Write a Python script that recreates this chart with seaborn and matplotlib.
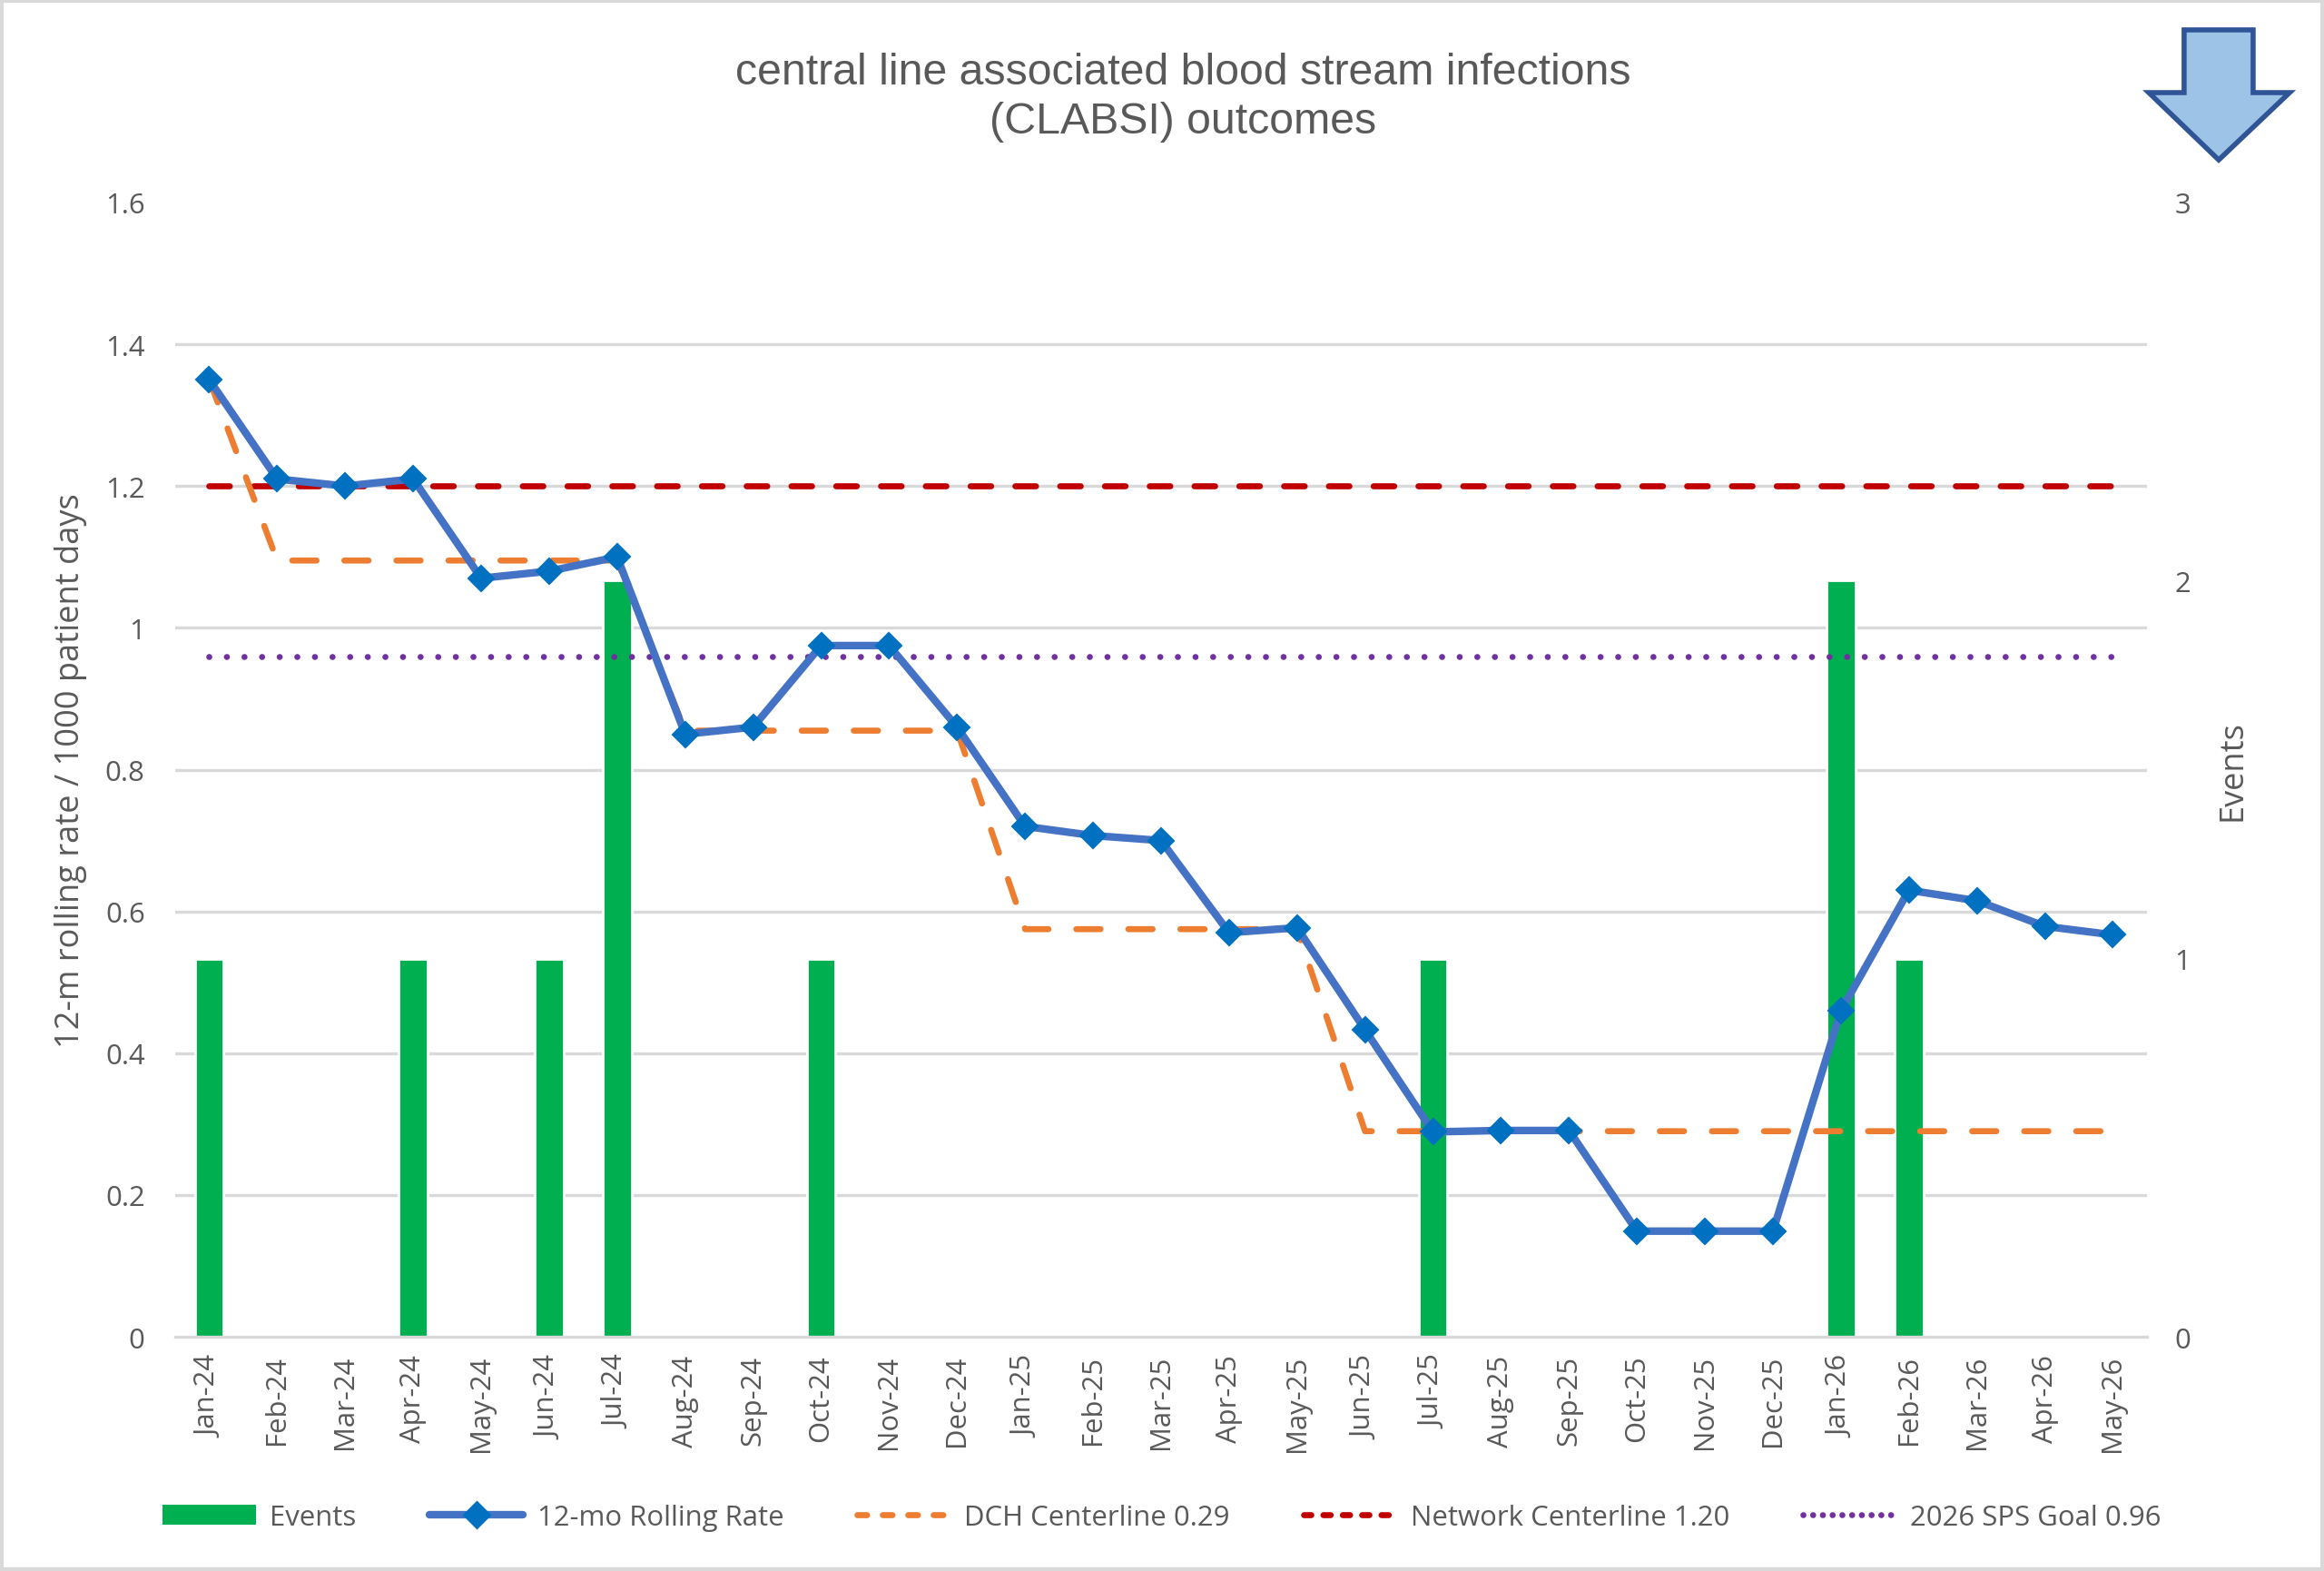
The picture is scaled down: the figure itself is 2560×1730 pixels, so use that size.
import numpy as np
import pandas as pd
import seaborn as sns
import matplotlib.pyplot as plt
from matplotlib.patches import Polygon, Rectangle, Patch
from matplotlib.lines import Line2D
from matplotlib.ticker import MultipleLocator

months = ["Jan-24", "Feb-24", "Mar-24", "Apr-24", "May-24", "Jun-24", "Jul-24",
          "Aug-24", "Sep-24", "Oct-24", "Nov-24", "Dec-24", "Jan-25", "Feb-25",
          "Mar-25", "Apr-25", "May-25", "Jun-25", "Jul-25", "Aug-25", "Sep-25",
          "Oct-25", "Nov-25", "Dec-25", "Jan-26", "Feb-26", "Mar-26", "Apr-26",
          "May-26"]
events = [1, 0, 0, 1, 0, 1, 2, 0, 0, 1, 0, 0, 0, 0, 0, 0, 0, 0, 1, 0, 0,
          0, 0, 0, 2, 1, 0, 0, 0]
rolling_rate = [1.35, 1.21, 1.20, 1.21, 1.07, 1.08, 1.10, 0.85, 0.86, 0.975,
                0.975, 0.86, 0.72, 0.707, 0.70, 0.57, 0.577, 0.433, 0.289,
                0.291, 0.291, 0.149, 0.149, 0.149, 0.46, 0.63, 0.615, 0.579,
                0.567]
dch_centerline = [1.35, 1.095, 1.095, 1.095, 1.095, 1.095, 1.095, 0.855, 0.855,
                  0.855, 0.855, 0.855, 0.575, 0.575, 0.575, 0.575, 0.575, 0.29,
                  0.29, 0.29, 0.29, 0.29, 0.29, 0.29, 0.29, 0.29, 0.29, 0.29,
                  0.29]
network_centerline = [1.20] * len(months)
sps_goal = [0.96] * len(months)
rate_ticks = ["0", "0.2", "0.4", "0.6", "0.8", "1", "1.2", "1.4", "1.6"]

df = pd.DataFrame({
    "idx": np.arange(len(months)),
    "month": months,
    "events": events,
    "rate": rolling_rate,
    "dch": dch_centerline,
    "network": network_centerline,
    "goal": sps_goal,
})

sns.set_style("white")
plt.rcParams["font.family"] = ["Open Sans", "DejaVu Sans"]
text_col = "#595959"
grid_col = "#d9d9d9"
tick_fs = 11.2

fig = plt.figure(figsize=(12.8, 8.655), dpi=200)
ax = fig.add_axes([0.0754, 0.149, 0.8484, 0.7216])

# bars on the bottom axis (events scale, shown on the right)
sns.barplot(df, x="idx", y="events", color="#00b050", saturation=1,
            width=0.42, ax=ax, zorder=2)
ax.set_ylim(0, 3)
ax.yaxis.set_major_locator(MultipleLocator(1))
ax.yaxis.set_minor_locator(MultipleLocator(0.375))
ax.grid(which="minor", axis="y", color=grid_col, lw=1.2, zorder=0)
ax.grid(which="major", axis="y", visible=False)
ax.set_axisbelow(True)

# lines on the twin axis (rate scale, shown on the left)
ax2 = ax.twinx()
sns.lineplot(df, x="idx", y="rate", ax=ax2, color="#4472c4", lw=3.0,
             marker="D", markersize=7, markerfacecolor="#0070c0",
             markeredgecolor="#0070c0", zorder=5)
ax2.plot(df["idx"], df["dch"], color="#ed7d31", lw=2.4,
         linestyle=(0, (4.0, 4.6)), dash_capstyle="round", zorder=4)
sns.lineplot(df, x="idx", y="network", ax=ax2, color="#c00000", lw=2.4,
             linestyle=(0, (3.4, 4.0)), dash_capstyle="round", zorder=3)
sns.lineplot(df, x="idx", y="goal", ax=ax2, color="#7030a0", lw=2.4,
             linestyle=(0, (0.01, 2.9)), dash_capstyle="round", zorder=3)
ax2.set_ylim(0, 1.6)
ax2.set_yticks(np.arange(0, 1.61, 0.2))
ax2.set_yticklabels(rate_ticks)

# swap sides: events on the right, rate on the left
ax.yaxis.tick_right()
ax.yaxis.set_label_position("right")
ax2.yaxis.tick_left()
ax2.yaxis.set_label_position("left")
ax.set_ylabel("Events", color=text_col, fontsize=13, labelpad=10)
ax.tick_params(axis="y", which="both", length=0, pad=11, labelsize=tick_fs,
               labelcolor=text_col, left=False, labelleft=False)
ax2.set_ylabel("12-m rolling rate / 1000 patient days", color=text_col,
               fontsize=13, labelpad=7)
ax2.tick_params(axis="y", length=0, pad=12, labelsize=tick_fs, labelcolor=text_col,
                right=False, labelright=False)

ax.set_xlim(-0.5, len(months) - 0.5)
ax.set_xticks(df["idx"])
ax.set_xticklabels(months, rotation=90)
ax.tick_params(axis="x", length=0, pad=7, labelsize=tick_fs, labelcolor=text_col)
ax.set_xlabel("")
ax2.set_xlabel("")

for a in (ax, ax2):
    for side in ("top", "left", "right"):
        a.spines[side].set_visible(False)
    a.spines["bottom"].set_color(grid_col)
    a.spines["bottom"].set_linewidth(1.2)
ax2.spines["bottom"].set_visible(False)

fig.text(0.509, 0.938, "central line associated blood stream infections\n(CLABSI) outcomes",
         ha="center", va="center", fontsize=17.4, color=text_col,
         family="Liberation Sans", linespacing=1.25)

handles = [
    Patch(facecolor="#00b050", edgecolor="none"),
    Line2D([], [], color="#4472c4", lw=3.0, marker="D", markersize=7,
           markerfacecolor="#0070c0", markeredgecolor="#0070c0"),
    Line2D([], [], color="#ed7d31", lw=2.4, linestyle=(0, (1.6, 2.6)), dash_capstyle="round"),
    Line2D([], [], color="#c00000", lw=2.4, linestyle=(0, (1.2, 2.0)), dash_capstyle="round"),
    Line2D([], [], color="#7030a0", lw=2.4, linestyle=(0, (0.01, 1.6)), dash_capstyle="round"),
]
labels = ["Events", "12-mo Rolling Rate", "DCH Centerline 0.29",
          "Network Centerline 1.20", "2026 SPS Goal 0.96"]
fig.legend(handles, labels, loc="center", bbox_to_anchor=(0.5, 0.034), ncol=5,
           frameon=False, fontsize=tick_fs, labelcolor=text_col, handlelength=3.3,
           columnspacing=2.6, handletextpad=0.5)

# decorative down arrow in the corner
arrow_pts = [(0.9398, 0.9804), (0.9695, 0.9804), (0.9695, 0.9405), (0.9852, 0.9405),
             (0.9547, 0.8977), (0.9246, 0.9405), (0.9398, 0.9405)]
fig.patches.append(Polygon(arrow_pts, closed=True, transform=fig.transFigure,
                           facecolor="#9dc3e6", edgecolor="#2f5597", lw=2.0,
                           joinstyle="miter"))
fig.patches.append(Rectangle((0.0008, 0.001), 0.9984, 0.998, transform=fig.transFigure,
                             fill=False, edgecolor=grid_col, lw=1.5))

fig.savefig("out.png", dpi=200)
